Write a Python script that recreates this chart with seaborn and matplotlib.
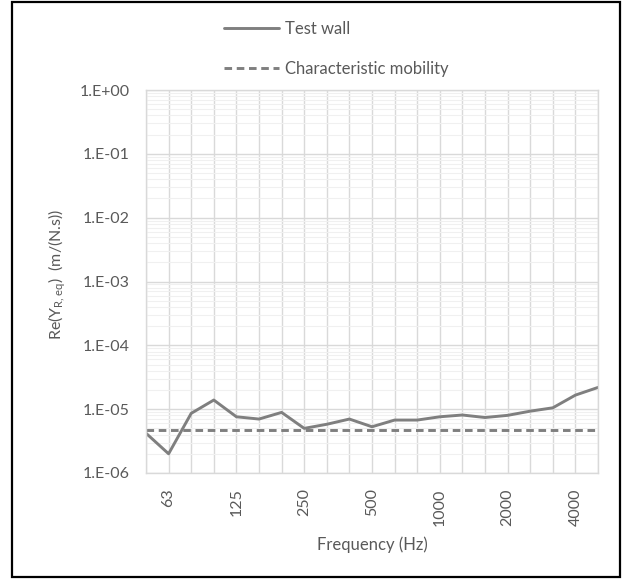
import numpy as np
import pandas as pd
import seaborn as sns
import matplotlib.pyplot as plt
from matplotlib.patches import Rectangle
from matplotlib.ticker import FixedLocator, LogLocator, NullFormatter

bands = ['50', '63', '80', '100', '125', '160', '200', '250', '315', '400', '500',
         '630', '800', '1000', '1250', '1600', '2000', '2500', '3150', '4000', '5000']
test_wall = [4.2e-6, 2.0e-6, 8.6e-6, 1.39e-5, 7.6e-6, 7.0e-6, 8.9e-6, 5.0e-6, 5.8e-6, 7.0e-6, 5.3e-6,
             6.75e-6, 6.75e-6, 7.6e-6, 8.1e-6, 7.4e-6, 8.0e-6, 9.3e-6, 1.05e-5, 1.66e-5, 2.19e-5]
char_mobility = 4.8e-6
shown_labels = ['63', '125', '250', '500', '1000', '2000', '4000']

df = pd.DataFrame({'band': bands, 'pos': np.arange(len(bands)), 'test': test_wall,
                   'char': [char_mobility] * len(bands)})

sns.set_style('white')
plt.rcParams['font.family'] = ['Lato', 'DejaVu Sans']

grey_txt = '#595959'
line_col = '#7f7f7f'

fig = plt.figure(figsize=(6.22, 5.79), dpi=100)
ax = fig.add_axes([146 / 622, 1 - 473 / 579, (598 - 146) / 622, (473 - 90) / 579])

sns.lineplot(data=df, x='pos', y='test', ax=ax, color=line_col, linewidth=2.1, label='Test wall')
sns.lineplot(data=df, x='pos', y='char', ax=ax, color=line_col, linewidth=2.1,
             linestyle=(0, (2.6, 1.6)), label='Characteristic mobility')

ax.set_yscale('log')
ax.set_ylim(1e-6, 1)
ax.set_xlim(0, len(bands) - 1)

ax.yaxis.set_minor_locator(LogLocator(base=10, subs=np.arange(2, 10), numticks=100))
ax.yaxis.set_minor_formatter(NullFormatter())
ax.set_yticks([10.0 ** k for k in range(-6, 1)])
ax.set_yticklabels(['1.E-%02d' % -k if k < 0 else '1.E+00' for k in range(-6, 1)])

ax.xaxis.set_major_locator(FixedLocator(df['pos']))
ax.set_xticklabels([b if b in shown_labels else '' for b in bands], rotation=90)

ax.grid(True, which='major', axis='both', color='#d9d9d9', linewidth=1.0)
ax.grid(True, which='minor', axis='y', color='#f0f0f0', linewidth=0.8)
ax.set_axisbelow(True)
for s in ax.spines.values():
    s.set_color('#d9d9d9')
    s.set_linewidth(1.0)

ax.tick_params(axis='both', which='both', length=0, labelsize=11.5, labelcolor=grey_txt)
ax.tick_params(axis='x', pad=11)
ax.tick_params(axis='y', pad=12)

ax.set_xlabel('Frequency (Hz)', fontsize=12, color=grey_txt, labelpad=8)
ax.set_ylabel(r'Re(Y$_{\mathregular{R,eq}}$)  (m/(N.s))', fontsize=11.5, color=grey_txt)
ax.yaxis.set_label_coords(-0.172, 0.52)

ax.legend_.remove()
h, l = ax.get_legend_handles_labels()
fig.legend(h, l, loc='upper left', bbox_to_anchor=(209 / 622, 1 - 6 / 579), frameon=False,
           handlelength=3.3, handletextpad=0.35, labelspacing=1.45, fontsize=12, labelcolor=grey_txt)

fig.patches.append(Rectangle((12 / 622, 2 / 579), 608 / 622, 575 / 579, transform=fig.transFigure,
                             fill=False, edgecolor='black', linewidth=1.6))

fig.savefig('out.png', dpi=100)
